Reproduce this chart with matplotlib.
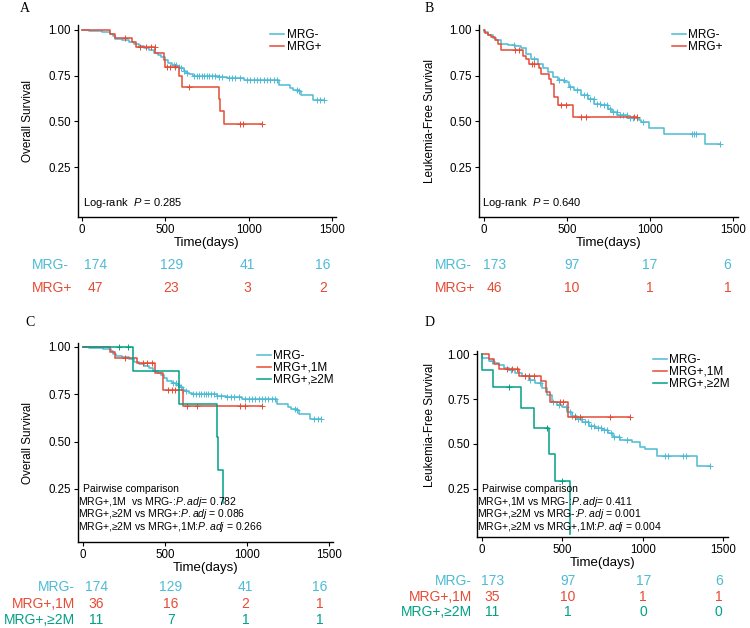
import numpy as np
import matplotlib
matplotlib.use('Agg')
import matplotlib.pyplot as plt

plt.rcParams['font.family'] = ['Liberation Sans', 'DejaVu Sans']
plt.rcParams['mathtext.fontset'] = 'custom'
plt.rcParams['mathtext.it'] = 'Liberation Sans:italic'
plt.rcParams['mathtext.rm'] = 'Liberation Sans'

azul = '#4DBBD5'
verm = '#E64B35'
verde = '#00A087'

# ---------------- dados ----------------
# A - sobrevida global
A_neg_t = [40, 120, 170, 185, 200, 240, 280, 310, 340, 370, 400, 430, 455, 475, 495, 515, 540, 570,
           590, 610, 625, 645, 665, 820, 870, 970, 1180, 1250, 1265, 1305, 1315, 1385]
A_neg_s = [0.995, 0.99, 0.98, 0.965, 0.953, 0.945, 0.935, 0.922, 0.91, 0.90, 0.89, 0.875, 0.865, 0.852,
           0.837, 0.82, 0.81, 0.80, 0.79, 0.775, 0.765, 0.757, 0.75, 0.743, 0.735, 0.725, 0.70, 0.685,
           0.673, 0.665, 0.645, 0.618]
A_neg_fim = 1450
A_neg_cens = [550, 565, 580, 595, 610, 630, 670, 690, 705, 720, 735, 750, 765, 780, 800, 820, 840, 880,
              900, 920, 950, 990, 1010, 1030, 1050, 1070, 1090, 1110, 1130, 1150, 1170, 1290, 1305,
              1410, 1430, 1450]

A_pos_t = [170, 200, 300, 323, 440, 490, 500, 580, 600, 821, 831, 855]
A_pos_s = [0.978, 0.957, 0.935, 0.907, 0.874, 0.838, 0.80, 0.746, 0.688, 0.62, 0.555, 0.484]
A_pos_fim = 1082
A_pos_cens = [255, 345, 385, 415, 436, 510, 530, 560, 640, 950, 965, 1082]

# B - sobrevida livre de leucemia
B_neg_t = [2, 24, 54, 74, 104, 144, 184, 224, 254, 284, 324, 354, 384, 414, 444, 484, 514, 544, 584,
           624, 664, 704, 744, 774, 804, 864, 934, 944, 994, 1084, 1334]
B_neg_s = [0.99, 0.97, 0.958, 0.943, 0.925, 0.92, 0.91, 0.90, 0.87, 0.843, 0.816, 0.79, 0.77, 0.743,
           0.724, 0.715, 0.69, 0.67, 0.642, 0.62, 0.597, 0.588, 0.57, 0.55, 0.533, 0.52, 0.51, 0.496,
           0.465, 0.432, 0.378]
B_neg_fim = 1424
B_neg_cens = [180, 300, 450, 480, 520, 560, 600, 620, 640, 660, 680, 700, 720, 740, 760, 780, 800,
              820, 840, 860, 880, 900, 920, 960, 1250, 1262, 1275, 1424]

B_pos_t = [4, 24, 44, 64, 84, 104, 234, 254, 274, 334, 344, 394, 404, 424, 444, 534]
B_pos_s = [0.985, 0.97, 0.96, 0.943, 0.925, 0.89, 0.86, 0.843, 0.816, 0.79, 0.757, 0.734, 0.706,
           0.633, 0.588, 0.524]
B_pos_fim = 924
B_pos_cens = [184, 208, 288, 304, 464, 494, 584, 614, 905, 924]

# C - sobrevida global, 3 grupos (MRG- igual ao painel A)
C_1m_t = [166, 197, 328, 440, 491, 608]
C_1m_s = [0.972, 0.942, 0.915, 0.862, 0.774, 0.686]
C_1m_fim = 1089
C_1m_cens = [257, 369, 389, 420, 521, 541, 561, 632, 693, 957, 987, 1089]

C_2m_t = [304, 588, 819, 825, 851]
C_2m_s = [0.875, 0.70, 0.525, 0.35, 0.175]
C_2m_fim = 851
C_2m_cens = [217, 274]

# D - sobrevida livre de leucemia, 3 grupos
D_neg_t = [2, 21, 41, 72, 104, 135, 166, 207, 248, 290, 331, 373, 404, 435, 466, 497, 528, 559, 590,
           621, 663, 704, 745, 787, 818, 859, 932, 983, 1014, 1087, 1335]
D_neg_s = [0.98, 0.976, 0.963, 0.952, 0.939, 0.92, 0.911, 0.896, 0.878, 0.856, 0.837, 0.81, 0.772,
           0.735, 0.717, 0.707, 0.68, 0.656, 0.637, 0.624, 0.60, 0.59, 0.578, 0.56, 0.54, 0.522, 0.513,
           0.485, 0.47, 0.433, 0.378]
D_neg_fim = 1418
D_neg_cens = [60, 180, 300, 360, 440, 480, 520, 545, 560, 580, 600, 620, 640, 660, 680, 700, 720,
              740, 760, 780, 800, 820, 850, 900, 1140, 1160, 1250, 1270, 1418]

D_1m_t = [41, 72, 104, 232, 366, 398, 424, 534]
D_1m_s = [0.97, 0.944, 0.917, 0.88, 0.85, 0.79, 0.735, 0.652]
D_1m_fim = 921
D_1m_cens = [155, 186, 217, 269, 290, 321, 487, 507, 580, 611, 797, 921]

D_2m_t = [3, 66, 244, 321, 420, 455, 549]
D_2m_s = [0.909, 0.818, 0.70, 0.59, 0.443, 0.296, 0.0]
D_2m_fim = 549
D_2m_cens = [166, 404, 497]

# tabelas de risco
tempos = [0, 500, 1000, 1500]
A_risco = {'MRG-': [174, 129, 41, 16], 'MRG+': [47, 23, 3, 2]}
B_risco = {'MRG-': [173, 97, 17, 6], 'MRG+': [46, 10, 1, 1]}
C_risco = {'MRG-': [174, 129, 41, 16], 'MRG+,1M': [36, 16, 2, 1], 'MRG+,≥2M': [11, 7, 1, 1]}
D_risco = {'MRG-': [173, 97, 17, 6], 'MRG+,1M': [35, 10, 1, 1], 'MRG+,≥2M': [11, 1, 0, 0]}

cores = {'MRG-': azul, 'MRG+': verm, 'MRG+,1M': verm, 'MRG+,≥2M': verde}

# ---------------- figura ----------------
W, H = 750, 628
fig = plt.figure(figsize=(7.5, 6.28), dpi=100)


def px_axes(l, t, r, b):                       # eixos definidos em pixels (esq, topo, dir, base)
    return fig.add_axes([l / W, 1 - b / H, (r - l) / W, (b - t) / H])


def km(ax, t, s, t_fim, cens, cor, nome):      # curva de Kaplan-Meier em degraus
    tt = np.array([0] + t + [t_fim], dtype=float)
    ss = np.array([1.0] + s + [s[-1]])
    ax.step(tt, ss, where='post', color=cor, lw=1.1, label=nome)
    idx = np.searchsorted(tt, cens, side='right') - 1
    ax.plot(cens, ss[idx], ls='none', marker='+', ms=4, mew=0.7, color=cor)


def estilo(ax, xlim, ylim, ylabel, ylab_x, ylab_y, xlab_y):
    ax.set_xlim(xlim)
    ax.set_ylim(ylim)
    ax.spines[['top', 'right']].set_visible(False)
    ax.spines[['left', 'bottom']].set_linewidth(1.0)
    ax.set_xticks(tempos)
    ax.set_yticks([0.25, 0.5, 0.75, 1.0])
    ax.set_yticklabels(['0.25', '0.50', '0.75', '1.00'])
    ax.tick_params(labelsize=8.3, length=3, width=0.8, pad=2)
    ax.set_xlabel('Time(days)', fontsize=9.5)
    ax.xaxis.label.set_va('center')
    ax.xaxis.set_label_coords(0.5, xlab_y)
    ax.set_ylabel(ylabel, fontsize=8.5)
    ax.yaxis.label.set_va('center')
    ax.yaxis.set_label_coords(ylab_x, ylab_y)


def tabela(l, r, xlim, risco, linhas_y, lab_x, lab_ha):
    tab = px_axes(l, 0, r, H)
    tab.set_xlim(xlim)
    tab.set_ylim(H, 0)
    tab.axis('off')
    for (nome, vals), y in zip(risco.items(), linhas_y):
        for t, n in zip(tempos, vals):
            tab.text(t, y, str(n), color=cores[nome], fontsize=10, ha='center', va='center')
        fig.text(lab_x / W, 1 - y / H, nome, color=cores[nome], fontsize=10, ha=lab_ha, va='center')


def legenda(ax, x, y):
    ax.legend(loc='upper left', bbox_to_anchor=(x, y), frameon=False, fontsize=8.5,
              handlelength=1.2, handletextpad=0.2, labelspacing=0.0, borderpad=0, borderaxespad=0)


def comparacoes(ax, linhas, y0, dy):           # bloco "Pairwise comparison"
    ax.text(0.02, y0, 'Pairwise comparison', transform=ax.transAxes, fontsize=7.5, va='center')
    for i, s in enumerate(linhas):
        ax.text(0.0, y0 - (i + 1) * dy, s, transform=ax.transAxes, fontsize=7.5, va='center')


# painel A
axA = px_axes(78, 25, 336, 217)
km(axA, A_neg_t, A_neg_s, A_neg_fim, A_neg_cens, azul, 'MRG-')
km(axA, A_pos_t, A_pos_s, A_pos_fim, A_pos_cens, verm, 'MRG+')
estilo(axA, (-24, 1524), (-0.023, 1.027), 'Overall Survival', -0.194, 0.5, -0.135)
axA.text(0.02, 0.073, 'Log-rank  $P$ = 0.285', transform=axA.transAxes, fontsize=8, va='center')
legenda(axA, 0.745, 0.98)
tabela(78, 336, (-117, 1587), A_risco, [265, 288], 32, 'left')

# painel B
axB = px_axes(479, 25, 738, 217)
km(axB, B_neg_t, B_neg_s, B_neg_fim, B_neg_cens, azul, 'MRG-')
km(axB, B_pos_t, B_pos_s, B_pos_fim, B_pos_cens, verm, 'MRG+')
estilo(axB, (-30, 1530), (-0.023, 1.027), 'Leukemia-Free Survival', -0.189, 0.5, -0.135)
axB.text(0.01, 0.073, 'Log-rank  $P$ = 0.640', transform=axB.transAxes, fontsize=8, va='center')
legenda(axB, 0.745, 0.98)
tabela(479, 738, (-100, 1568), B_risco, [265, 288], 435, 'left')

# painel C
axC = px_axes(78, 343, 333, 542)
km(axC, A_neg_t, A_neg_s, A_neg_fim, A_neg_cens, azul, 'MRG-')
km(axC, C_1m_t, C_1m_s, C_1m_fim, C_1m_cens, verm, 'MRG+,1M')
km(axC, C_2m_t, C_2m_s, C_2m_fim, C_2m_cens, verde, 'MRG+,≥2M')
estilo(axC, (-30, 1524), (-0.030, 1.021), 'Overall Survival', -0.196, 0.5, -0.131)
txtC = ['MRG+,1M  vs MRG-:$P.adj$= 0.782',
        'MRG+,≥2M vs MRG+:$P.adj$ = 0.086',
        'MRG+,≥2M vs MRG+,1M:$P.adj$ = 0.266']
comparacoes(axC, txtC, 0.266, 0.0628)
legenda(axC, 0.70, 0.965)
tabela(78, 333, (-124, 1587), C_risco, [587, 604, 620], 75, 'right')

# painel D
axD = px_axes(477, 351, 728, 537)
km(axD, D_neg_t, D_neg_s, D_neg_fim, D_neg_cens, azul, 'MRG-')
km(axD, D_1m_t, D_1m_s, D_1m_fim, D_1m_cens, verm, 'MRG+,1M')
km(axD, D_2m_t, D_2m_s, D_2m_fim, D_2m_cens, verde, 'MRG+,≥2M')
estilo(axD, (-31, 1531), (-0.017, 1.017), 'Leukemia-Free Survival', -0.187, 0.6, -0.14)
txtD = ['MRG+,1M vs MRG-:$P.adj$= 0.411',
        'MRG+,≥2M vs MRG-:$P.adj$ = 0.001',
        'MRG+,≥2M vs MRG+,1M:$P.adj$ = 0.004']
comparacoes(axD, txtD, 0.258, 0.0672)
legenda(axD, 0.70, 0.985)
tabela(477, 728, (-102, 1562), D_risco, [581, 597, 612], 472, 'right')

# letras dos painéis
for letra, x, y in [('A', 20, 9), ('B', 425, 8), ('C', 25, 322), ('D', 425, 322)]:
    fig.text(x / W, 1 - y / H, letra, fontsize=10, family='Liberation Serif', va='center')

fig.savefig('out.png', dpi=100)
